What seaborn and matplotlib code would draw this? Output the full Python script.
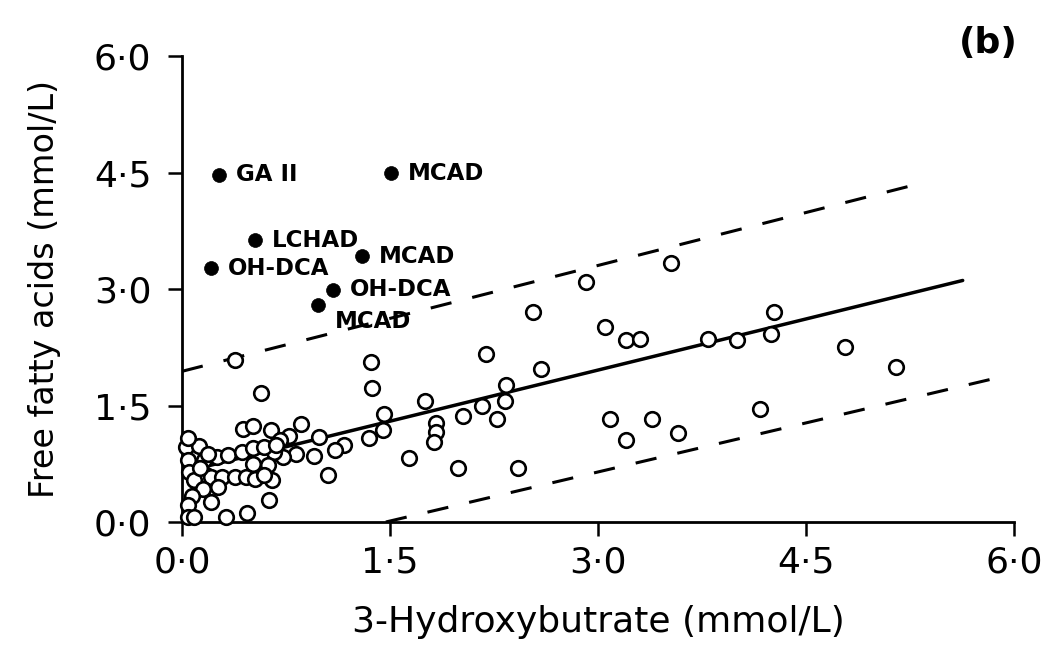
import matplotlib
matplotlib.use("Agg")
import matplotlib.pyplot as plt
import seaborn as sns
import numpy as np
import pandas as pd

# ---- data ----
open_x = [0.38, 0.57, 1.36, 1.37, 1.46, 1.45, 1.35, 1.75, 1.83, 1.83, 1.82, 1.64,
          1.99, 2.42, 2.03, 2.16, 2.27, 2.33, 2.34, 2.19, 2.59, 2.53, 2.91, 3.53,
          3.05, 3.20, 3.30, 3.79, 4.00, 4.25, 4.27, 4.78, 5.15, 4.17, 3.09, 3.39,
          3.20, 3.58,
          0.44, 0.51, 0.64, 0.86, 0.77, 0.99, 1.17, 1.10, 0.95, 0.82, 0.73, 0.66,
          1.05, 0.65, 0.63, 0.71, 0.03, 0.12, 0.04, 0.25, 0.33, 0.43, 0.51, 0.59,
          0.68, 0.04, 0.16, 0.51, 0.62, 0.05, 0.17, 0.21, 0.29, 0.38, 0.46, 0.53,
          0.59, 0.09, 0.26, 0.15, 0.07, 0.21, 0.04, 0.47, 0.32, 0.04, 0.09, 0.13,
          0.19]
open_y = [2.08, 1.66, 2.06, 1.72, 1.39, 1.18, 1.08, 1.56, 1.28, 1.16, 1.03, 0.83,
          0.70, 0.70, 1.36, 1.50, 1.32, 1.56, 1.76, 2.16, 1.97, 2.70, 3.09, 3.33,
          2.51, 2.34, 2.36, 2.35, 2.34, 2.42, 2.71, 2.25, 1.99, 1.45, 1.33, 1.33,
          1.06, 1.14,
          1.20, 1.24, 1.18, 1.26, 1.11, 1.10, 0.99, 0.93, 0.85, 0.88, 0.84, 0.90,
          0.60, 0.54, 0.28, 1.05, 0.97, 0.98, 1.08, 0.84, 0.86, 0.90, 0.95, 0.97,
          0.99, 0.80, 0.80, 0.75, 0.73, 0.65, 0.60, 0.58, 0.58, 0.58, 0.58, 0.56,
          0.60, 0.54, 0.45, 0.43, 0.33, 0.26, 0.22, 0.12, 0.07, 0.07, 0.07, 0.70,
          0.88]

case_x = [0.27, 1.51, 0.53, 1.30, 0.21, 1.09, 0.98]
case_y = [4.47, 4.49, 3.63, 3.42, 3.27, 2.99, 2.79]
case_labels = ["GA II", "MCAD", "LCHAD", "MCAD", "OH-DCA", "OH-DCA", "MCAD"]

reg_x = [0.0, 5.63]
reg_y = [0.64, 3.11]
upper_x = [0.0, 5.26]
upper_y = [1.94, 4.33]
lower_x = [1.47, 5.84]
lower_y = [0.0, 1.84]

ticks = [0.0, 1.5, 3.0, 4.5, 6.0]
tick_labels = [f"{t:.1f}".replace(".", "\u00b7") for t in ticks]

# ---- plot ----
sns.set_style("ticks")
plt.rcParams["font.family"] = ["DejaVu Sans"]
plt.rcParams["text.color"] = "black"
plt.rcParams["axes.labelcolor"] = "black"

fig = plt.figure(figsize=(10.46, 6.54), dpi=100)
ax = fig.add_axes([182 / 1046, 1 - 522 / 654, (1014 - 182) / 1046, (522 - 56) / 654])

sns.lineplot(x=reg_x, y=reg_y, color="black", lw=2.5, ax=ax)
sns.lineplot(x=upper_x, y=upper_y, color="black", lw=2.2, ax=ax)
sns.lineplot(x=lower_x, y=lower_y, color="black", lw=2.2, ax=ax)
for ln in ax.get_lines()[1:]:
    ln.set_linestyle((0, (7, 7)))

df_open = pd.DataFrame({"x": open_x, "y": open_y})
sns.scatterplot(data=df_open, x="x", y="y", marker="o", s=110,
                facecolor="white", edgecolor="black", linewidth=1.9,
                clip_on=False, zorder=3, ax=ax)
df_case = pd.DataFrame({"x": case_x, "y": case_y, "label": case_labels})
sns.scatterplot(data=df_case, x="x", y="y", marker="o", s=100,
                color="black", edgecolor="black", linewidth=0.5,
                clip_on=False, zorder=4, ax=ax)

for i, (cx, cy, lab) in enumerate(zip(case_x, case_y, case_labels)):
    if i == len(case_labels) - 1:
        ax.annotate(lab, (cx, cy), xytext=(12, -12), textcoords="offset points",
                    ha="left", va="center", fontsize=16.5, fontweight="bold",
                    color="black")
    else:
        ax.annotate(lab, (cx, cy), xytext=(12, 0), textcoords="offset points",
                    ha="left", va="center", fontsize=16.5, fontweight="bold",
                    color="black")

ax.set_xlim(0, 6)
ax.set_ylim(0, 6)
ax.set_xticks(ticks)
ax.set_xticklabels(tick_labels)
ax.set_yticks(ticks)
ax.set_yticklabels(tick_labels)
ax.tick_params(axis="both", direction="out", length=10, width=1.8,
               labelsize=26, color="black", labelcolor="black")
ax.tick_params(axis="x", pad=7)
ax.tick_params(axis="y", pad=12)
for side in ["top", "right"]:
    ax.spines[side].set_visible(False)
for side in ["left", "bottom"]:
    ax.spines[side].set_linewidth(2.0)
    ax.spines[side].set_color("black")

ax.set_xlabel("3-Hydroxybutrate (mmol/L)", fontsize=26, labelpad=18, color="black")
ax.set_ylabel("Free fatty acids (mmol/L)", fontsize=24, labelpad=24, color="black")

fig.text(0.945, 0.935, "(b)", fontsize=26, fontweight="bold", ha="center",
         va="center", color="black")

fig.savefig("out.png", dpi=100, facecolor="white")
